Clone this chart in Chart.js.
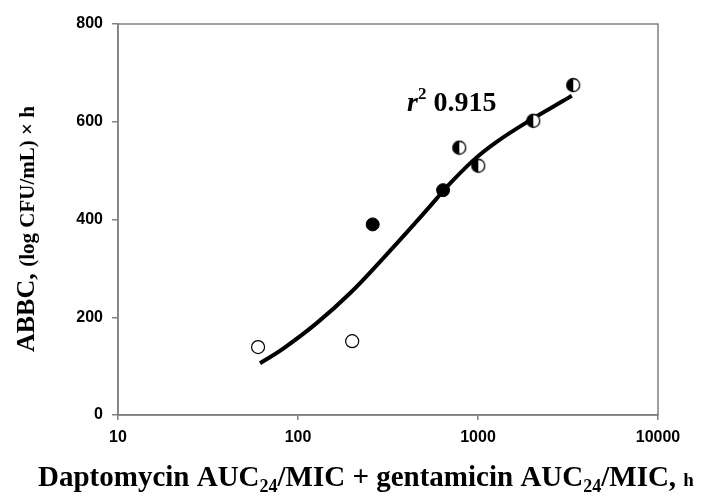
<!DOCTYPE html>
<html>
<head>
<meta charset="utf-8">
<script src="https://cdn.jsdelivr.net/npm/chart.js@4/dist/chart.umd.min.js"></script>
<style>
html,body{margin:0;padding:0;background:#fff;}
#wrap{width:709px;height:501px;position:relative;}
</style>
</head>
<body>
<div id="wrap"><canvas id="c" width="709" height="501"></canvas></div>
<script>
// ---- data ----
const openX = [60, 200];
const openY = [139, 151];
const filledX = [260, 640];
const filledY = [390, 460];
const halfX = [787, 1004, 2028, 3380];
const halfY = [547, 510, 602, 675];
const curveX = [61.5, 82.8, 127, 194.5, 298, 456, 590, 641, 941, 1270, 1945, 2978, 3320];
const curveY = [106, 136, 188, 249, 321, 396, 443, 459, 521, 559, 603, 643, 653];
const xTicks = [10, 100, 1000, 10000];
const yTicks = [0, 200, 400, 600, 800];
const r2Label = '0.915';

const pts = (xs, ys) => xs.map((x, i) => ({x: x, y: ys[i]}));

// half-filled marker (left half black, right half white)
function halfMarker(r) {
  const s = r * 2 + 3;
  const cv = document.createElement('canvas');
  cv.width = s; cv.height = s;
  const g = cv.getContext('2d');
  const c = s / 2;
  g.beginPath(); g.arc(c, c, r, 0, Math.PI * 2); g.fillStyle = '#fff'; g.fill();
  g.beginPath(); g.moveTo(c, c - r); g.arc(c, c, r, -Math.PI / 2, Math.PI / 2, true); g.closePath();
  g.fillStyle = '#000'; g.fill();
  g.beginPath(); g.arc(c, c, r, 0, Math.PI * 2); g.lineWidth = 1.3; g.strokeStyle = '#000'; g.stroke();
  return cv;
}

const framePlugin = {
  id: 'frame',
  beforeDatasetsDraw(chart) {
    const a = chart.chartArea, ctx = chart.ctx;
    ctx.save();
    ctx.strokeStyle = '#808080';
    ctx.lineWidth = 1.5;
    ctx.strokeRect(a.left, a.top, a.right - a.left, a.bottom - a.top);
    ctx.restore();
  }
};

const textPlugin = {
  id: 'texts',
  afterDraw(chart) {
    const ctx = chart.ctx;
    ctx.save();
    ctx.fillStyle = '#000';
    ctx.textBaseline = 'alphabetic';
    ctx.textAlign = 'left';
    const serif = '"Liberation Serif", "Times New Roman", serif';
    // y-axis title (rotated)
    const big = 'bold 26px ' + serif, small = 'bold 21px ' + serif;
    ctx.font = big; const w1 = ctx.measureText('ABBC, ').width;
    ctx.translate(34, 352);
    ctx.rotate(-Math.PI / 2);
    ctx.font = big; ctx.fillText('ABBC, ', 0, 0);
    ctx.font = small; ctx.fillText('(log CFU/mL) × h', w1, 0);
    ctx.setTransform(1, 0, 0, 1, 0, 0);
    // x-axis title with subscripts
    const parts = [
      ['Daptomycin AUC', 'bold 29px ' + serif, 0],
      ['24', 'bold 18px ' + serif, 6],
      ['/MIC + gentamicin AUC', 'bold 29px ' + serif, 0],
      ['24', 'bold 18px ' + serif, 6],
      ['/MIC, ', 'bold 29px ' + serif, 0],
      ['h', 'bold 19px ' + serif, 0]
    ];
    let x = 38;
    parts.forEach(p => { ctx.font = p[1]; ctx.fillText(p[0], x, 486 + p[2]); x += ctx.measureText(p[0]).width; });
    // r^2 annotation
    let rx = 407;
    ctx.font = 'italic bold 28px ' + serif; ctx.fillText('r', rx, 111); rx += ctx.measureText('r').width;
    ctx.font = 'bold 17px ' + serif; ctx.fillText('2', rx, 99); rx += ctx.measureText('2').width;
    ctx.font = 'bold 28px ' + serif; ctx.fillText(' ' + r2Label, rx, 111);
    ctx.restore();
  }
};

const tickFont = {family: '"Liberation Sans", Arial, sans-serif', size: 16, weight: 'bold'};

new Chart(document.getElementById('c'), {
  type: 'scatter',
  data: {
    datasets: [
      {
        type: 'line', data: pts(curveX, curveY), borderColor: '#000', borderWidth: 4,
        pointRadius: 0, fill: false, tension: 0.4, order: 2
      },
      {
        data: pts(openX, openY), pointStyle: 'circle', pointRadius: 6.5,
        backgroundColor: '#fff', borderColor: '#000', borderWidth: 1.2, order: 1
      },
      {
        data: pts(filledX, filledY), pointStyle: 'circle', pointRadius: 6.5,
        backgroundColor: '#000', borderColor: '#000', borderWidth: 1, order: 1
      },
      {
        data: pts(halfX, halfY), pointStyle: halfMarker(6.5), pointRadius: 6.5,
        backgroundColor: '#000', borderColor: '#000', order: 1
      }
    ]
  },
  options: {
    responsive: false,
    animation: false,
    devicePixelRatio: 1,
    layout: {padding: {left: 0, top: 24, right: 51, bottom: 0}},
    plugins: {legend: {display: false}, tooltip: {enabled: false}},
    scales: {
      x: {
        type: 'logarithmic', min: 10, max: 10000,
        afterBuildTicks: s => { s.ticks = xTicks.map(v => ({value: v})); },
        afterFit: s => { s.height = 86; },
        ticks: {color: '#000', font: tickFont, padding: 8, maxRotation: 0,
                callback: v => String(v)},
        grid: {display: true, drawOnChartArea: false, drawTicks: true, tickLength: 5, color: '#808080', lineWidth: 1.5},
        border: {display: true, color: '#808080', width: 1.5}
      },
      y: {
        type: 'linear', min: 0, max: 800,
        afterBuildTicks: s => { s.ticks = yTicks.map(v => ({value: v})); },
        afterFit: s => { s.width = 118; },
        ticks: {color: '#000', font: tickFont, padding: 9},
        grid: {display: true, drawOnChartArea: false, drawTicks: true, tickLength: 6, color: '#808080', lineWidth: 1.5},
        border: {display: true, color: '#808080', width: 1.5}
      }
    }
  },
  plugins: [framePlugin, textPlugin]
});
</script>
</body>
</html>
